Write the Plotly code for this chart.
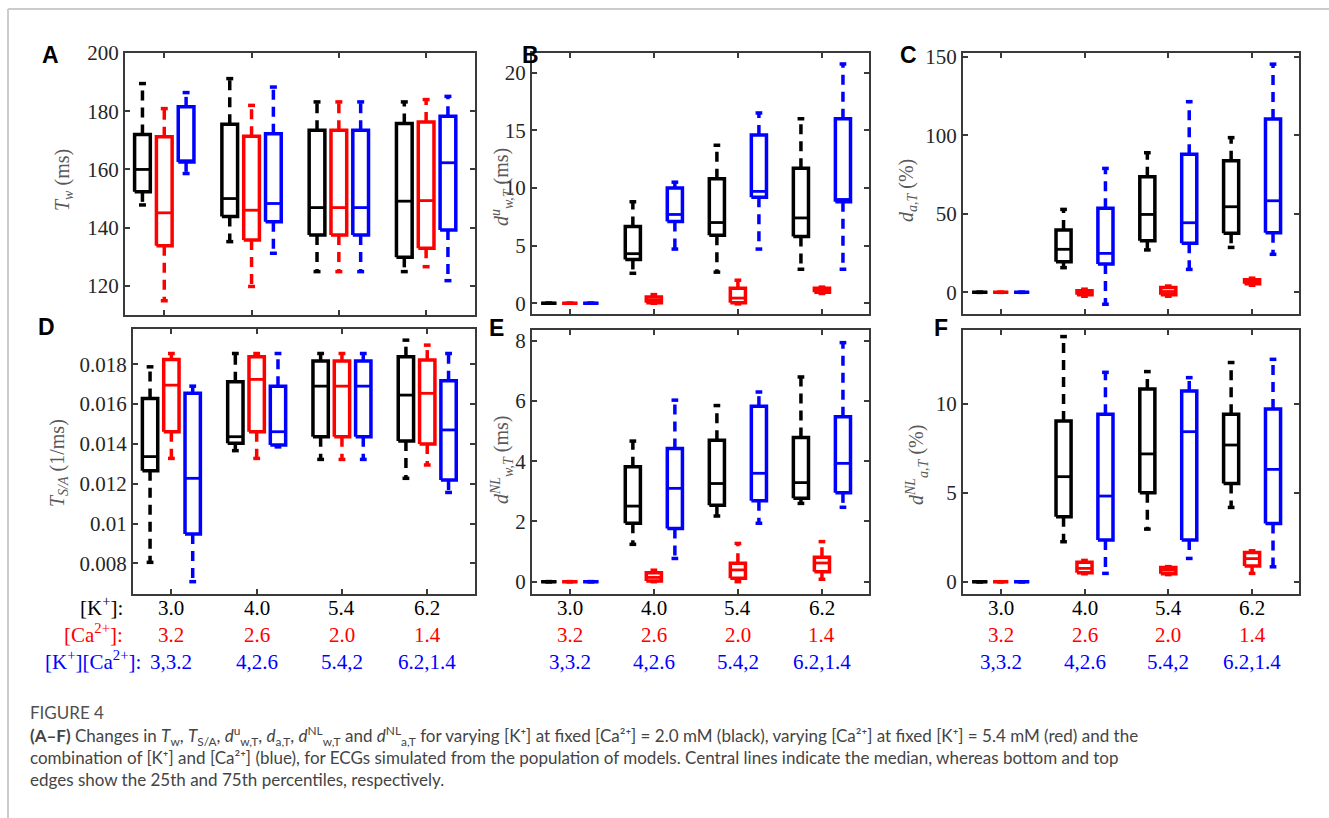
import plotly.graph_objects as go

W, H = 1329, 818

# ---------------- data ----------------
k_vals = ["3.0", "4.0", "5.4", "6.2"]
ca_vals = ["3.2", "2.6", "2.0", "1.4"]
kca_vals = ["3,3.2", "4,2.6", "5.4,2", "6.2,1.4"]

series_colors = ["#000000", "#ff0000", "#0000ff"]
series_offsets = [-0.25, 0.0, 0.25]

# each tuple: (lower whisker, q1, median, q3, upper whisker) for [K+] groups 3.0, 4.0, 5.4, 6.2
A_black = [(147.8, 152.3, 160.0, 172.0, 189.5), (135.2, 143.8, 150.0, 175.5, 191.2),
           (124.9, 137.5, 146.9, 173.5, 183.2), (124.9, 129.8, 149.1, 175.8, 183.2)]
A_red = [(114.9, 133.8, 145.1, 171.2, 180.9), (119.8, 135.8, 146.0, 171.4, 182.0),
         (124.9, 137.5, 146.9, 173.5, 183.2), (126.6, 132.9, 149.3, 176.3, 184.0)]
A_blue = [(158.6, 162.6, 163.0, 181.5, 186.4), (131.2, 142.0, 148.3, 172.3, 188.3),
          (124.9, 137.5, 146.9, 173.5, 183.2), (121.8, 139.2, 162.3, 178.3, 185.1)]

B_black = [(0, 0, 0, 0, 0), (2.6, 3.8, 4.3, 6.65, 8.8),
           (2.7, 5.9, 7.0, 10.8, 13.7), (2.95, 5.8, 7.4, 11.7, 16.0)]
B_red = [(0, 0, 0, 0, 0), (0.0, 0.05, 0.28, 0.55, 0.75),
         (-0.05, 0.05, 0.45, 1.3, 2.0), (0.85, 0.95, 1.1, 1.3, 1.4)]
B_blue = [(0, 0, 0, 0, 0), (4.7, 7.1, 7.7, 10.0, 10.5),
          (4.7, 9.2, 9.7, 14.6, 16.5), (2.95, 8.8, 9.0, 16.0, 20.75)]

C_black = [(0, 0, 0, 0, 0), (15.7, 19.5, 27.4, 39.7, 52.8),
           (27.0, 32.9, 49.6, 73.6, 88.9), (28.6, 37.6, 54.5, 83.8, 98.5)]
C_red = [(0, 0, 0, 0, 0), (-2.5, -1.5, -0.5, 1.0, 2.0),
         (-2.5, -1.5, 0.5, 3.0, 4.0), (4.5, 5.5, 7.0, 8.0, 9.0)]
C_blue = [(0, 0, 0, 0, 0), (-7.6, 18.0, 24.8, 53.5, 78.9),
          (14.6, 31.2, 44.3, 88.0, 121.4), (24.2, 38.0, 58.3, 110.3, 145.3)]

D_black = [(0.00805, 0.01265, 0.01336, 0.01628, 0.01787), (0.01366, 0.01403, 0.01436, 0.01712, 0.01854),
           (0.01322, 0.01436, 0.01690, 0.01816, 0.01854), (0.01227, 0.01414, 0.01645, 0.01838, 0.01921)]
D_red = [(0.01327, 0.01461, 0.01695, 0.01824, 0.01854), (0.01327, 0.01461, 0.01724, 0.01838, 0.01854),
         (0.01322, 0.01436, 0.01690, 0.01816, 0.01854), (0.01294, 0.01399, 0.01654, 0.01821, 0.01896)]
D_blue = [(0.00708, 0.00947, 0.01227, 0.01654, 0.01690), (0.01385, 0.01395, 0.01461, 0.01690, 0.01854),
          (0.01322, 0.01436, 0.01690, 0.01816, 0.01854), (0.01156, 0.01218, 0.01470, 0.01717, 0.01854)]

E_black = [(0, 0, 0, 0, 0), (1.24, 1.94, 2.51, 3.82, 4.67),
           (2.18, 2.54, 3.26, 4.70, 5.85), (2.60, 2.77, 3.29, 4.79, 6.80)]
E_red = [(0, 0, 0, 0, 0), (0.0, 0.02, 0.14, 0.30, 0.38),
         (0.0, 0.11, 0.39, 0.61, 1.27), (0.08, 0.33, 0.62, 0.81, 1.33)]
E_blue = [(0, 0, 0, 0, 0), (0.77, 1.77, 3.10, 4.42, 6.03),
          (1.94, 2.69, 3.60, 5.83, 6.30), (2.47, 2.95, 3.93, 5.48, 7.94)]

F_black = [(0, 0, 0, 0, 0), (2.25, 3.66, 5.91, 9.04, 13.79),
           (2.96, 5.01, 7.19, 10.84, 11.82), (4.18, 5.53, 7.69, 9.42, 12.33)]
F_red = [(0, 0, 0, 0, 0), (0.45, 0.50, 0.75, 1.10, 1.20),
         (0.40, 0.45, 0.65, 0.80, 0.85), (0.47, 0.88, 1.30, 1.65, 1.74)]
F_blue = [(0, 0, 0, 0, 0), (0.47, 2.35, 4.82, 9.42, 11.78),
          (1.31, 2.35, 8.44, 10.73, 11.48), (0.84, 3.28, 6.32, 9.72, 12.51)]

A_ticks = [120, 140, 160, 180, 200]
B_ticks = [0, 5, 10, 15, 20]
C_ticks = [0, 50, 100, 150]
D_ticks = [0.008, 0.010, 0.012, 0.014, 0.016, 0.018]
D_ticktext = ["0.008", "0.01", "0.012", "0.014", "0.016", "0.018"]
E_ticks = [0, 2, 4, 6, 8]
F_ticks = [0, 5, 10]

# ---------------- layout helpers ----------------
def px_x(x):
    return x / W

def px_y(y):
    return 1 - y / H

SERIF = "Liberation Serif, Times New Roman, serif"
TICKCOL = "#262626"
AXCOL = "#3a3a3a"

panels = [
    dict(letter="A", data=[A_black, A_red, A_blue], box=(125, 475, 53, 315), yr=[110, 200],
         tv=A_ticks, tt=[str(v) for v in A_ticks], bottom=False,
         title="<i>T</i><sub><i>w</i></sub> (ms)", tpos=(63, 180), lpos=(50, 55)),
    dict(letter="B", data=[B_black, B_red, B_blue], box=(532, 869, 53, 314), yr=[-0.93, 21.7],
         tv=B_ticks, tt=[str(v) for v in B_ticks], bottom=False,
         title="<i>d</i><sup><i>u</i></sup><sub><i>w,T</i></sub> (ms)", tpos=(502, 187), lpos=(530, 55)),
    dict(letter="C", data=[C_black, C_red, C_blue], box=(963, 1299, 53, 314), yr=[-13.8, 152.4],
         tv=C_ticks, tt=[str(v) for v in C_ticks], bottom=False,
         title="<i>d</i><sub><i>a,T</i></sub> (%)", tpos=(907, 190), lpos=(908, 55)),
    dict(letter="D", data=[D_black, D_red, D_blue], box=(133, 475, 329, 594), yr=[0.00646, 0.01977],
         tv=D_ticks, tt=D_ticktext, bottom=True,
         title="<i>T</i><sub><i>S/A</i></sub> (1/ms)", tpos=(58, 463), lpos=(46, 327)),
    dict(letter="E", data=[E_black, E_red, E_blue], box=(532, 869, 330, 594), yr=[-0.41, 8.36],
         tv=E_ticks, tt=[str(v) for v in E_ticks], bottom=True,
         title="<i>d</i><sup><i>NL</i></sup><sub><i>w,T</i></sub> (ms)", tpos=(502, 460), lpos=(496, 328)),
    dict(letter="F", data=[F_black, F_red, F_blue], box=(963, 1299, 330, 594), yr=[-0.69, 14.16],
         tv=F_ticks, tt=[str(v) for v in F_ticks], bottom=True,
         title="<i>d</i><sup><i>NL</i></sup><sub><i>a,T</i></sub> (%)", tpos=(917, 465), lpos=(941, 328)),
]

HW = 0.09    # half box width (x units)
CW = 0.04    # half cap width

fig = go.Figure()
annotations = []
layout = {}

for pi, p in enumerate(panels):
    n = pi + 1
    xa = "x" if n == 1 else f"x{n}"
    ya = "y" if n == 1 else f"y{n}"
    xkey = "xaxis" if n == 1 else f"xaxis{n}"
    ykey = "yaxis" if n == 1 else f"yaxis{n}"
    x0, x1, y0, y1 = p["box"]

    for stats, color, off in zip(p["data"], series_colors, series_offsets):
        bx, by, mx, my, wx, wy = [], [], [], [], [], []
        for gi, (lo, q1, md, q3, hi) in enumerate(stats):
            c = gi + 1 + off
            bx += [c - HW, c + HW, c + HW, c - HW, c - HW, None]
            by += [q1, q1, q3, q3, q1, None]
            bx += [c - CW, c + CW, None, c - CW, c + CW, None]
            by += [hi, hi, None, lo, lo, None]
            mx += [c - HW, c + HW, None]
            my += [md, md, None]
            wx += [c, c, None, c, c, None]
            wy += [q3, hi, None, q1, lo, None]
        fig.add_trace(go.Scatter(x=wx, y=wy, mode="lines", xaxis=xa, yaxis=ya,
                                 line=dict(color=color, width=3.5, dash="10px,7px"),
                                 hoverinfo="skip", showlegend=False, connectgaps=False))
        fig.add_trace(go.Scatter(x=bx, y=by, mode="lines", xaxis=xa, yaxis=ya,
                                 line=dict(color=color, width=3.5),
                                 hoverinfo="skip", showlegend=False, connectgaps=False))
        fig.add_trace(go.Scatter(x=mx, y=my, mode="lines", xaxis=xa, yaxis=ya,
                                 line=dict(color=color, width=2.8),
                                 hoverinfo="skip", showlegend=False, connectgaps=False))

    layout[xkey] = dict(
        domain=[px_x(x0), px_x(x1)], anchor=ya, range=[0.55, 4.56],
        tickvals=[1, 2, 3, 4], showticklabels=False, automargin=False,
        ticks="inside", ticklen=5, tickwidth=1.5, tickcolor=AXCOL,
        showline=True, linecolor=AXCOL, linewidth=2, mirror="ticks", showgrid=False, zeroline=False,
        fixedrange=True,
    )
    layout[ykey] = dict(
        domain=[px_y(y1), px_y(y0)], anchor=xa, range=p["yr"], automargin=False,
        tickvals=p["tv"], ticktext=p["tt"],
        ticks="inside", ticklen=5, tickwidth=1.5, tickcolor=AXCOL,
        showline=True, linecolor=AXCOL, linewidth=2, mirror="ticks", showgrid=False, zeroline=False,
        tickfont=dict(family=SERIF, size=21, color=TICKCOL), fixedrange=True,
    )
    annotations.append(dict(text=p["title"], x=px_x(p["tpos"][0]), y=px_y(p["tpos"][1]),
                            xref="paper", yref="paper", showarrow=False, textangle=-90,
                            xanchor="center", yanchor="middle",
                            font=dict(family=SERIF, size=20, color="#595959")))
    annotations.append(dict(text=f"<b>{p['letter']}</b>", x=px_x(p["lpos"][0]), y=px_y(p["lpos"][1]),
                            xref="paper", yref="paper", showarrow=False,
                            xanchor="center", yanchor="middle",
                            font=dict(family="Liberation Sans, Arial, sans-serif", size=23, color="#000000")))
    # x tick label rows (three condition rows) under the bottom panels
    if p["bottom"]:
        for rows, col, yc in ((k_vals, "#000000", 608), (ca_vals, "#ff0000", 635), (kca_vals, "#0000ff", 662)):
            for gi, txt in enumerate(rows):
                annotations.append(dict(text=txt, x=gi + 1, xref=xa, y=px_y(yc), yref="paper",
                                        showarrow=False, xanchor="center", yanchor="middle",
                                        font=dict(family=SERIF, size=21, color=col)))

# row labels for the x tick rows
row_labels = [("[K<sup>+</sup>]:", "#000000", 125, 606),
              ("[Ca<sup>2+</sup>]:", "#ff0000", 125, 633),
              ("[K<sup>+</sup>][Ca<sup>2+</sup>]:", "#0000ff", 143, 660)]
for txt, col, xr, yc in row_labels:
    annotations.append(dict(text=txt, x=px_x(xr), y=px_y(yc), xref="paper", yref="paper",
                            showarrow=False, xanchor="right", yanchor="middle",
                            font=dict(family=SERIF, size=21, color=col)))

# caption
CAP_FONT = "Lato, Open Sans, sans-serif"
annotations.append(dict(text="FIGURE 4", x=px_x(28), y=px_y(712), xref="paper", yref="paper",
                        showarrow=False, xanchor="left", yanchor="middle",
                        font=dict(family=CAP_FONT, size=17, color="#505050")))
cap_text = (
    "<b>(A–F)</b> Changes in <i>T</i><sub>w</sub>, <i>T</i><sub>S/A</sub>, <i>d</i><sup>u</sup><sub>w,T</sub>, "
    "<i>d</i><sub>a,T</sub>, <i>d</i><sup>NL</sup><sub>w,T</sub> and <i>d</i><sup>NL</sup><sub>a,T</sub> "
    "for varying [K⁺] at fixed [Ca²⁺] = 2.0 mM (black), varying [Ca²⁺] "
    "at fixed [K⁺] = 5.4 mM (red) and the<br>"
    "combination of [K⁺] and [Ca²⁺] (blue), for ECGs simulated from the population "
    "of models. Central lines indicate the median, whereas bottom and top<br>"
    "edges show the 25th and 75th percentiles, respectively."
)
annotations.append(dict(text=cap_text, x=px_x(28), y=px_y(721), xref="paper", yref="paper",
                        showarrow=False, xanchor="left", yanchor="top", align="left",
                        font=dict(family=CAP_FONT, size=17, color="#444444")))

shapes = [
    dict(type="line", xref="paper", yref="paper", x0=px_x(8), x1=1, y0=px_y(9), y1=px_y(9),
         line=dict(color="#cccccc", width=2)),
    dict(type="line", xref="paper", yref="paper", x0=px_x(8), x1=px_x(8), y0=px_y(9), y1=0,
         line=dict(color="#cccccc", width=2)),
]

fig.update_layout(
    width=W, height=H, autosize=False,
    margin=dict(l=0, r=0, t=0, b=0, pad=0, autoexpand=False),
    paper_bgcolor="#ffffff", plot_bgcolor="#ffffff",
    showlegend=False, annotations=annotations, shapes=shapes,
    **layout,
)

post = (
    "document.documentElement.style.margin='0';document.documentElement.style.padding='0';"
    "document.documentElement.style.overflow='hidden';"
    "document.body.style.margin='0';document.body.style.padding='0';document.body.style.overflow='hidden';"
    "var gd=document.getElementById('{plot_id}');"
    "gd.style.position='absolute';gd.style.left='0px';gd.style.top='0px';"
)
fig.write_html("out.html", include_plotlyjs=True, config={"displayModeBar": False}, post_script=post)
